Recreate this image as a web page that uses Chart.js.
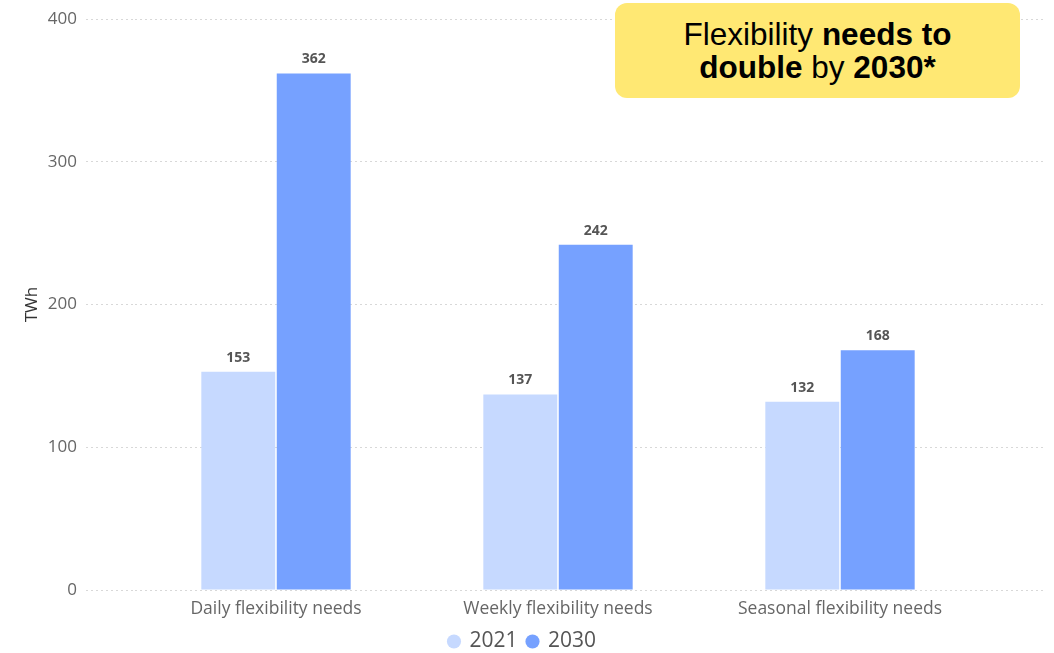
<!DOCTYPE html>
<html>
<head>
<meta charset="utf-8">
<script src="https://cdn.jsdelivr.net/npm/chart.js@4"></script>
<style>
  html, body { margin: 0; padding: 0; background: #fff; }
  #wrap { position: relative; width: 1054px; height: 653px; }
  #note {
    position: absolute; left: 615px; top: 3px; width: 405px; height: 95px;
    background: #ffe873; border-radius: 12px;
    font-family: "Liberation Sans", Arial, sans-serif; font-size: 31.5px;
    line-height: 33px; color: #000; text-align: center;
    display: flex; align-items: center; justify-content: center;
  }
</style>
</head>
<body>
<div id="wrap">
  <canvas id="chart" width="1054" height="653"></canvas>
  <div id="note"><div>Flexibility <b>needs to</b><br><b>double</b> by <b>2030*</b></div></div>
</div>
<script>
// Categorie e valori (TWh)
const categories = ["Daily flexibility needs", "Weekly flexibility needs", "Seasonal flexibility needs"];
const values2021 = [153, 137, 132];
const values2030 = [362, 242, 168];
const yTicks = [0, 100, 200, 300, 400];

const fontFamily = "'Open Sans', 'Noto Sans', sans-serif";

// Etichette sopra le barre
const barLabels = {
  id: "barLabels",
  afterDatasetsDraw(chart) {
    const ctx = chart.ctx;
    ctx.save();
    ctx.font = "bold 14px " + fontFamily;
    ctx.fillStyle = "#555";
    ctx.textAlign = "center";
    ctx.textBaseline = "bottom";
    chart.data.datasets.forEach((ds, i) => {
      chart.getDatasetMeta(i).data.forEach((bar, j) => {
        ctx.fillText(ds.data[j], bar.x, bar.y - 7);
      });
    });
    ctx.restore();
  }
};

const gridOpts = {
  color: "#d8d8d8",
  tickColor: "#d8d8d8",
  tickBorderDash: [2, 3],
  lineWidth: 1
};

new Chart(document.getElementById("chart"), {
  type: "bar",
  data: {
    labels: categories,
    datasets: [
      { label: "2021", data: values2021, backgroundColor: "#c6d9ff" },
      { label: "2030", data: values2030, backgroundColor: "#76a1ff" }
    ]
  },
  options: {
    responsive: false,
    animation: false,
    layout: { padding: { left: 0, right: 9, top: 6, bottom: -9 } },
    datasets: { bar: { categoryPercentage: 0.535, barPercentage: 0.98 } },
    plugins: {
      tooltip: { enabled: false },
      legend: {
        position: "bottom",
        labels: {
          usePointStyle: true,
          pointStyle: "circle",
          boxWidth: 10,
          boxHeight: 10,
          padding: 10,
          color: "#555",
          font: { family: fontFamily, size: 21 }
        }
      }
    },
    scales: {
      x: {
        grid: { display: false },
        border: { display: false },
        ticks: { color: "#666", font: { family: fontFamily, size: 17.5 }, padding: 1 }
      },
      y: {
        min: 0,
        max: 400,
        afterBuildTicks: s => { s.ticks = yTicks.map(v => ({ value: v })); },
        afterFit: s => { s.width = 135; },
        border: { display: false, dash: [2, 3] },
        grid: Object.assign({ tickLength: 49 }, gridOpts),
        ticks: { color: "#666", font: { family: fontFamily, size: 17 }, padding: 9 },
        title: {
          display: true,
          text: "TWh",
          color: "#333",
          font: { family: fontFamily, size: 17 },
          padding: { top: 22, bottom: 0 }
        }
      },
      y2: {
        position: "right",
        min: 0,
        max: 400,
        afterBuildTicks: s => { s.ticks = yTicks.map(v => ({ value: v })); },
        afterFit: s => { s.width = 64; },
        border: { display: false },
        grid: Object.assign({ tickLength: 64, drawOnChartArea: false }, gridOpts),
        ticks: { display: false }
      }
    }
  },
  plugins: [barLabels]
});
</script>
</body>
</html>
